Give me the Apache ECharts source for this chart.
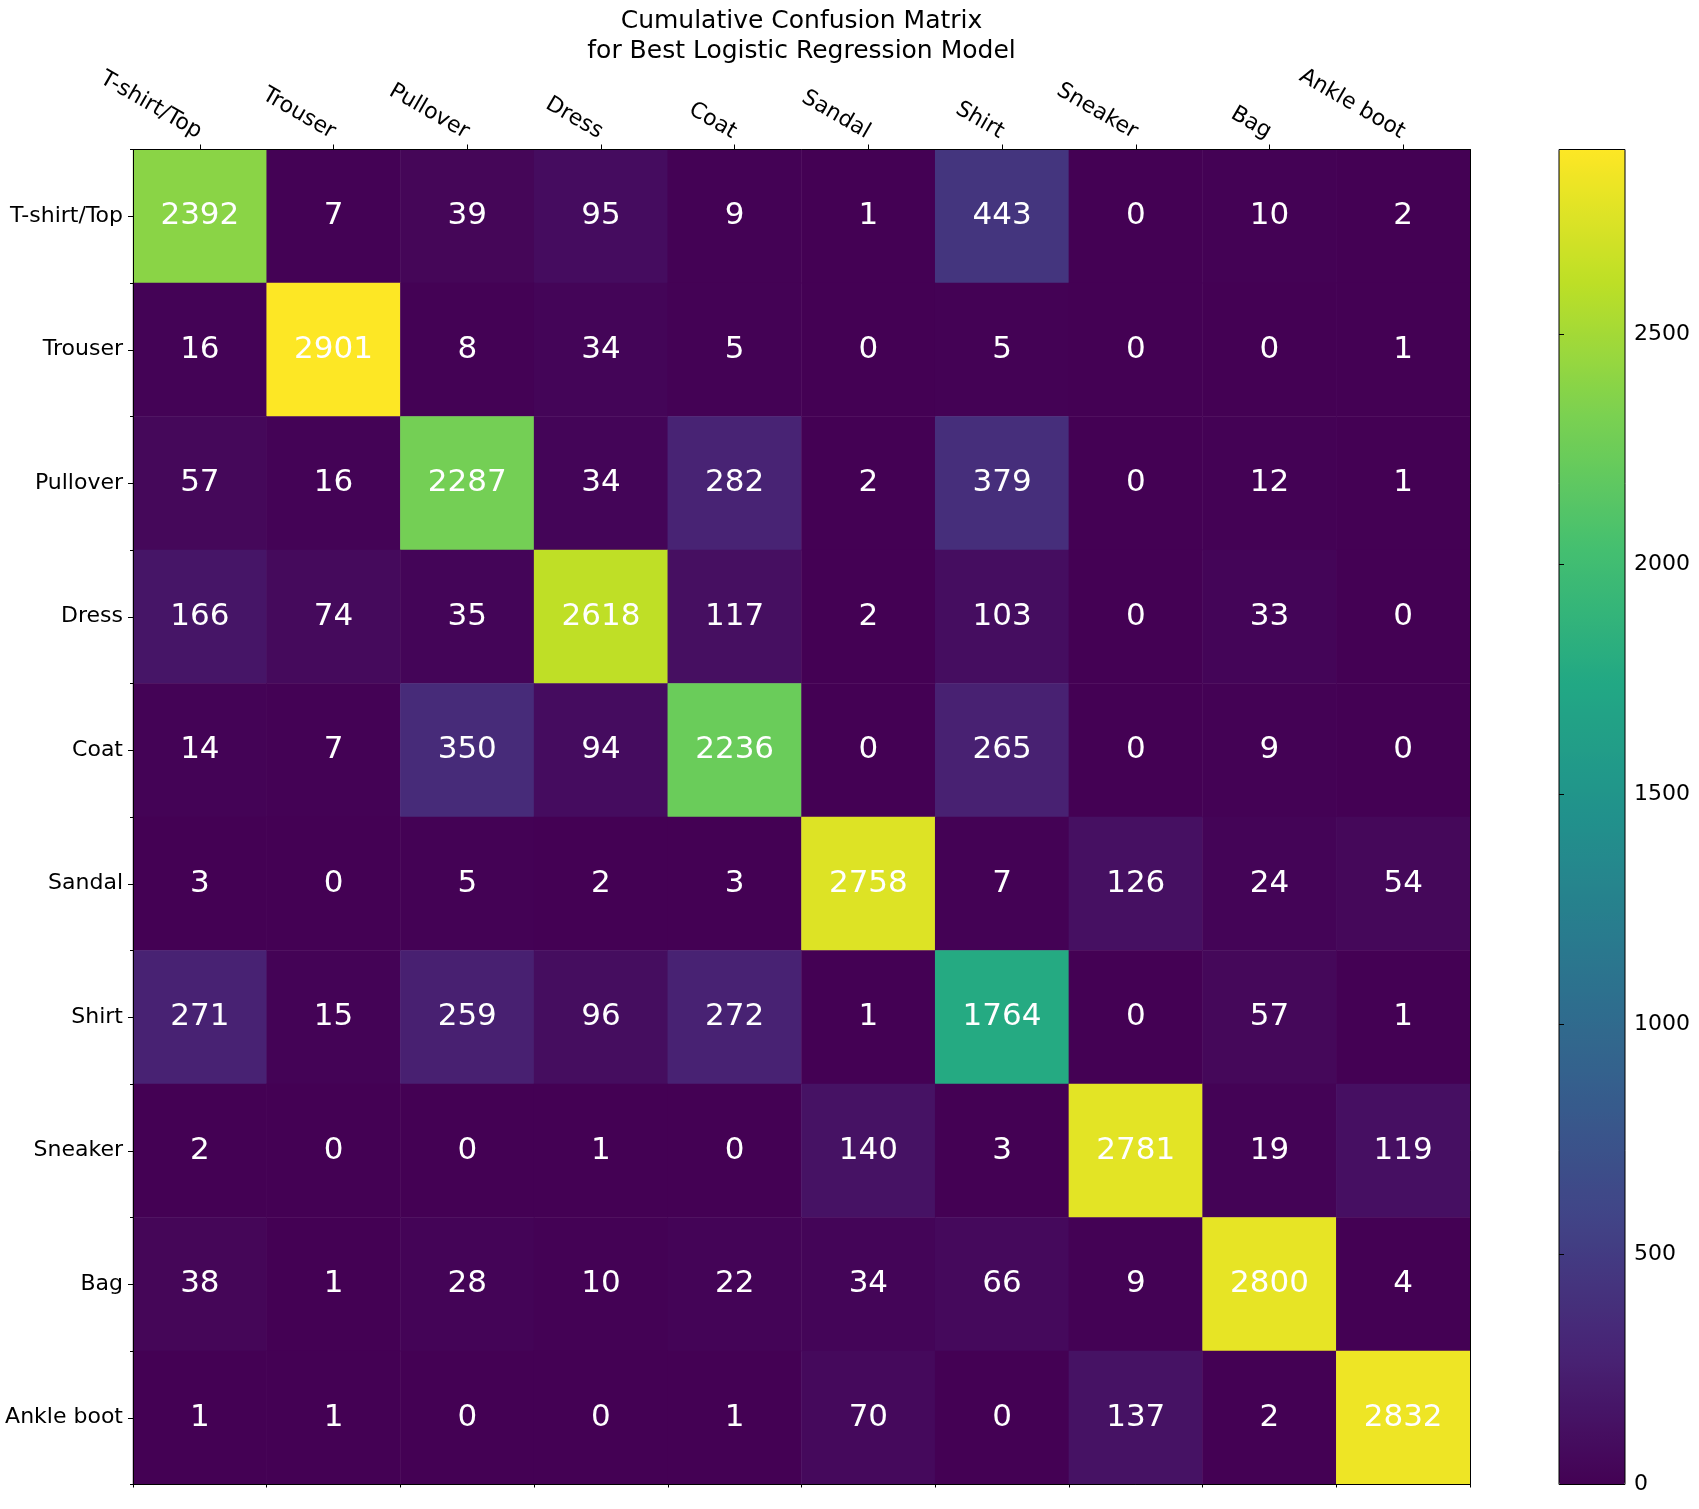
<!DOCTYPE html>
<html>
<head>
<meta charset="utf-8">
<style>
  html, body { margin: 0; padding: 0; background: #fff; }
  #chart { width: 1699px; height: 1509px; }
</style>
<script src="https://cdn.jsdelivr.net/npm/echarts@6/dist/echarts.min.js"></script>
</head>
<body>
<div id="chart"></div>
<script>
// ---- data ----
const categories = ['T-shirt/Top', 'Trouser', 'Pullover', 'Dress', 'Coat', 'Sandal', 'Shirt', 'Sneaker', 'Bag', 'Ankle boot'];
const rowTshirt   = [2392, 7, 39, 95, 9, 1, 443, 0, 10, 2];
const rowTrouser  = [16, 2901, 8, 34, 5, 0, 5, 0, 0, 1];
const rowPullover = [57, 16, 2287, 34, 282, 2, 379, 0, 12, 1];
const rowDress    = [166, 74, 35, 2618, 117, 2, 103, 0, 33, 0];
const rowCoat     = [14, 7, 350, 94, 2236, 0, 265, 0, 9, 0];
const rowSandal   = [3, 0, 5, 2, 3, 2758, 7, 126, 24, 54];
const rowShirt    = [271, 15, 259, 96, 272, 1, 1764, 0, 57, 1];
const rowSneaker  = [2, 0, 0, 1, 0, 140, 3, 2781, 19, 119];
const rowBag      = [38, 1, 28, 10, 22, 34, 66, 9, 2800, 4];
const rowAnkle    = [1, 1, 0, 0, 1, 70, 0, 137, 2, 2832];
const colorbarTicks = [0, 500, 1000, 1500, 2000, 2500];
const titleLines = ['Cumulative Confusion Matrix', 'for Best Logistic Regression Model'];

const matrix = [rowTshirt, rowTrouser, rowPullover, rowDress, rowCoat, rowSandal, rowShirt, rowSneaker, rowBag, rowAnkle];
const cells = [];
matrix.forEach((row, r) => row.forEach((v, c) => cells.push([c, r, v])));
const vmax = Math.max(...cells.map(d => d[2]));

const viridis = ['#440154', '#482475', '#414487', '#355f8d', '#2a788e', '#21918c', '#22a884', '#44bf70', '#7ad151', '#bddf26', '#fde725'];
const FONT = 'DejaVu Sans';

const G = { left: 133, top: 149.5, width: 1337, height: 1335 };
const CB = { left: 1559, top: 149.5, width: 66, height: 1335 };

const chart = echarts.init(document.getElementById('chart'), null, { renderer: 'canvas' });
chart.setOption({
  backgroundColor: '#ffffff',
  animation: false,
  textStyle: { fontFamily: FONT },
  title: {
    text: titleLines.join('\n'),
    left: G.left + G.width / 2,
    top: 6,
    padding: 0,
    textAlign: 'center',
    textStyle: { fontFamily: FONT, fontSize: 25, fontWeight: 'normal', color: '#000', lineHeight: 30 }
  },
  grid: [
    Object.assign({ show: false, containLabel: false }, G),
    Object.assign({ show: true, borderColor: '#000', borderWidth: 1, backgroundColor: 'transparent', z: 10 }, CB)
  ],
  xAxis: [
    {
      type: 'category', gridIndex: 0, position: 'top', data: categories, z: 10,
      axisLine: { show: true, lineStyle: { color: '#000', width: 1 } },
      axisTick: { show: true, alignWithLabel: true, length: 5, lineStyle: { color: '#000' } },
      axisLabel: { show: true, rotate: 30, margin: 16, fontSize: 22, color: '#000', fontFamily: FONT, interval: 0 },
      splitLine: { show: false }
    },
    {
      type: 'category', gridIndex: 0, position: 'bottom', data: categories, z: 10,
      axisLine: { show: true, lineStyle: { color: '#000', width: 1 } },
      axisTick: { show: true, alignWithLabel: false, length: 3, interval: 0, lineStyle: { color: '#000' } },
      axisLabel: { show: false },
      splitLine: { show: false }
    },
    { type: 'value', gridIndex: 1, show: false, min: 0, max: 1 }
  ],
  yAxis: [
    {
      type: 'category', gridIndex: 0, position: 'left', inverse: true, data: categories, z: 10,
      axisLine: { show: true, lineStyle: { color: '#000', width: 1 } },
      axisTick: { show: true, alignWithLabel: true, length: 5, lineStyle: { color: '#000' } },
      axisLabel: { show: true, margin: 10, fontSize: 22, color: '#000', fontFamily: FONT, interval: 0 },
      splitLine: { show: false }
    },
    {
      type: 'category', gridIndex: 0, position: 'left', inverse: true, data: categories, z: 10,
      axisLine: { show: false },
      axisTick: { show: true, alignWithLabel: false, length: 3, interval: 0, lineStyle: { color: '#000' } },
      axisLabel: { show: false },
      splitLine: { show: false }
    },
    {
      type: 'category', gridIndex: 0, position: 'right', inverse: true, data: categories, z: 10,
      axisLine: { show: true, lineStyle: { color: '#000', width: 1 } },
      axisTick: { show: false },
      axisLabel: { show: false },
      splitLine: { show: false }
    },
    {
      type: 'value', gridIndex: 1, position: 'right', min: 0, max: vmax, z: 10,
      axisLine: { show: false },
      axisTick: { show: true, length: 5, customValues: colorbarTicks, lineStyle: { color: '#000' } },
      axisLabel: { show: true, margin: 9, fontSize: 22, color: '#000', fontFamily: FONT, customValues: colorbarTicks, formatter: v => String(v) },
      splitLine: { show: false }
    }
  ],
  visualMap: {
    type: 'continuous',
    min: 0, max: vmax,
    seriesIndex: 0,
    calculable: false,
    realtime: false,
    hoverLink: false,
    orient: 'vertical',
    left: CB.left, top: CB.top,
    itemWidth: CB.width, itemHeight: CB.height,
    padding: 0,
    text: null,
    inRange: { color: viridis }
  },
  series: [{
    type: 'heatmap',
    xAxisIndex: 0, yAxisIndex: 0,
    data: cells,
    itemStyle: { borderWidth: 0 },
    label: {
      show: true, color: '#fff', fontSize: 31, fontFamily: FONT,
      formatter: p => String(p.value[2])
    },
    emphasis: { disabled: true }
  }]
});
</script>
</body>
</html>
